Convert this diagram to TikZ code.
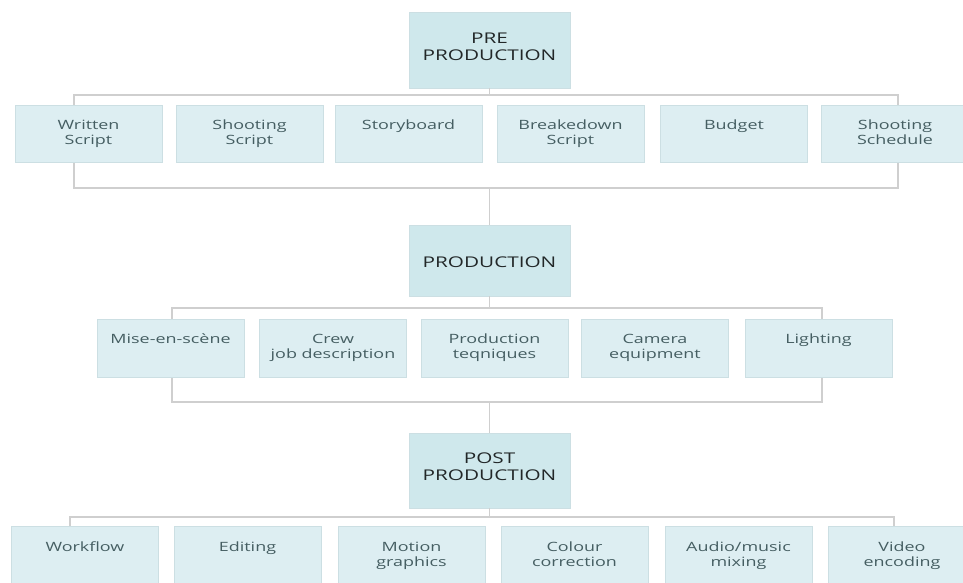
\documentclass[tikz,border=0pt]{standalone}
\usepackage{fontspec}
\setmainfont{Open Sans}[FakeStretch=1.4]
\definecolor{hdrfill}{HTML}{CFE8EC}
\definecolor{boxfill}{HTML}{DDEEF2}
\definecolor{boxedge}{HTML}{CCDFE3}
\definecolor{txtc}{HTML}{455E62}
\definecolor{hdrtxtc}{HTML}{222728}
\definecolor{linec}{HTML}{CFCFCF}
\begin{document}
\begin{tikzpicture}[x=1pt,y=-1pt,
 hdr/.style={rectangle, fill=hdrfill, draw=boxedge, line width=0.6pt, inner sep=0, minimum width=161pt},
 child/.style={rectangle, fill=boxfill, draw=boxedge, line width=0.6pt, minimum width=147pt, minimum height=57pt, inner sep=0},
 hdrtxt/.style={align=center, font=\fontsize{14.8}{17}\selectfont, text=hdrtxtc, inner sep=0},
 childtxt/.style={align=center, font=\fontsize{12.8}{15}\selectfont, text=txtc, anchor=north, inner sep=0},
 conn/.style={draw=linec, line width=1.2pt}]
\useasboundingbox (0,0) rectangle (963,583);
\fill[white] (0,0) rectangle (963,583);

% ---------- brackets (behind boxes) ----------
\coordinate (b1tl) at (74,95);
\coordinate (b1br) at (898,188);
\coordinate (b2tl) at (172,308);
\coordinate (b2br) at (822,402);
\coordinate (b3tl) at (70,517);
\coordinate (b3br) at (894,600);
\draw[conn] (b1tl) rectangle (b1br);
\draw[conn] (b2tl) rectangle (b2br);
\draw[conn] (b3tl) rectangle (b3br);

% ---------- headers ----------
\node[hdr, minimum height=76pt] (pre) at (489.5,50) {};
\node[hdrtxt] (pret) at (489.5,47) {PRE\\PRODUCTION};
\node[hdr, minimum height=71pt] (prod) at (489.5,260.5) {};
\node[hdrtxt] (prodt) at (489.5,262) {PRODUCTION};
\node[hdr, minimum height=75pt] (post) at (489.5,470.5) {};
\node[hdrtxt] (postt) at (489.5,467) {POST\\PRODUCTION};

% ---------- central connectors ----------
\coordinate (c1a) at (pre.south |- b1tl);
\coordinate (c1b) at (pre.south |- b1br);
\coordinate (c2a) at (prod.south |- b2tl);
\coordinate (c2b) at (prod.south |- b2br);
\coordinate (c3a) at (post.south |- b3tl);
\draw[conn] (pre.south) -- (c1a);
\draw[conn] (c1b) -- (prod.north);
\draw[conn] (prod.south) -- (c2a);
\draw[conn] (c2b) -- (post.north);
\draw[conn] (post.south) -- (c3a);

% ---------- row 1 ----------
\node[child] (ws) at (88.5,133.5) {};
\node[child] (ss) at (249.5,133.5) {};
\node[child] (sb) at (408.5,133.5) {};
\node[child] (bs) at (570.5,133.5) {};
\node[child] (bu) at (734,133.5) {};
\node[child] (sc) at (895,133.5) {};
\node[childtxt] (wst) at ([yshift=-15pt]ws.north) {Written\\Script};
\node[childtxt] (sst) at ([yshift=-15pt]ss.north) {Shooting\\Script};
\node[childtxt] (sbt) at ([yshift=-15pt]sb.north) {Storyboard};
\node[childtxt] (bst) at ([yshift=-15pt]bs.north) {Breakedown\\Script};
\node[childtxt] (but) at ([yshift=-15pt]bu.north) {Budget};
\node[childtxt] (sct) at ([yshift=-15pt]sc.north) {Shooting\\Schedule};

% ---------- row 2 ----------
\node[child, minimum height=58pt] (mes) at (170.5,348) {};
\node[child, minimum height=58pt] (cjd) at (333,348) {};
\node[child, minimum height=58pt] (prt) at (494.5,348) {};
\node[child, minimum height=58pt] (ceq) at (655,348) {};
\node[child, minimum height=58pt] (lig) at (818.5,348) {};
\node[childtxt] (mest) at ([yshift=-15pt]mes.north) {Mise-en-scène};
\node[childtxt] (cjdt) at ([yshift=-15pt]cjd.north) {Crew\\job description};
\node[childtxt] (prtt) at ([yshift=-15pt]prt.north) {Production\\teqniques};
\node[childtxt] (ceqt) at ([yshift=-15pt]ceq.north) {Camera\\equipment};
\node[childtxt] (ligt) at ([yshift=-15pt]lig.north) {Lighting};

% ---------- row 3 ----------
\node[child, minimum height=60pt] (wf) at (85,556) {};
\node[child, minimum height=60pt] (ed) at (247.5,556) {};
\node[child, minimum height=60pt] (mg) at (411.5,556) {};
\node[child, minimum height=60pt] (cc) at (574.5,556) {};
\node[child, minimum height=60pt] (am) at (738.5,556) {};
\node[child, minimum height=60pt] (ve) at (902,556) {};
\node[childtxt] (wft) at ([yshift=-16pt]wf.north) {Workflow};
\node[childtxt] (edt) at ([yshift=-16pt]ed.north) {Editing};
\node[childtxt] (mgt) at ([yshift=-16pt]mg.north) {Motion\\graphics};
\node[childtxt] (cct) at ([yshift=-16pt]cc.north) {Colour\\correction};
\node[childtxt] (amt) at ([yshift=-16pt]am.north) {Audio/music\\mixing};
\node[childtxt] (vet) at ([yshift=-16pt]ve.north) {Video\\encoding};
\end{tikzpicture}
\end{document}
